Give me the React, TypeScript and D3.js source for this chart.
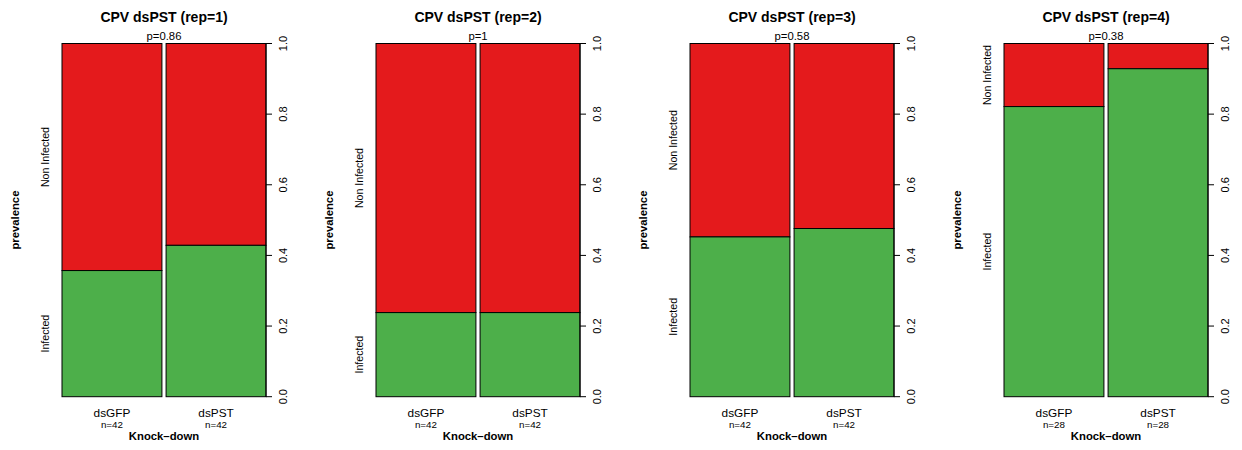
import * as d3 from 'd3';

const reps = [1, 2, 3, 4];
const pValues = ['0.86', '1', '0.58', '0.38'];
const groups = ['dsGFP', 'dsPST'];
const nTotal = [
  [42, 42],
  [42, 42],
  [42, 42],
  [28, 28],
];
const nInfected = [
  [15, 18],
  [10, 10],
  [19, 20],
  [23, 26],
];
const ticks = [0, 0.2, 0.4, 0.6, 0.8, 1.0];

const WIDTH = 1242;
const HEIGHT = 450;
const RED = '#E41A1C';
const GREEN = '#4DAF4A';
const FONT = '"Liberation Sans", Arial, Helvetica, sans-serif';

function Panel({ index }: { index: number }) {
  const left = 62 + index * 314;
  const plotW = 204;
  const top = 43.5;
  const bottom = 396.7;

  const x = d3.scaleBand().domain(groups).range([left, left + plotW]).paddingInner(0.04);
  const y = d3.scaleLinear().domain([0, 1]).range([bottom, top]);
  const axisX = left + plotW;
  const cx = left + plotW / 2;

  const fracs = nInfected[index].map((v, i) => v / nTotal[index][i]);
  const f0 = fracs[0];

  return (
    <g>
      <text x={cx} y={22} textAnchor="middle" fontSize={14} fontWeight="bold">
        CPV dsPST (rep={reps[index]})
      </text>
      <text x={cx} y={39.5} textAnchor="middle" fontSize={11.3}>
        p={pValues[index]}
      </text>

      {groups.map((g, i) => (
        <g key={g}>
          <rect
            x={x(g)}
            y={y(1)}
            width={x.bandwidth()}
            height={y(fracs[i]) - y(1)}
            fill={RED}
            stroke="#000"
            strokeWidth={1}
          />
          <rect
            x={x(g)}
            y={y(fracs[i])}
            width={x.bandwidth()}
            height={y(0) - y(fracs[i])}
            fill={GREEN}
            stroke="#000"
            strokeWidth={1}
          />
          <text x={(x(g) || 0) + x.bandwidth() / 2} y={416.5} textAnchor="middle" fontSize={11.8}>
            {g}
          </text>
          <text x={(x(g) || 0) + x.bandwidth() / 2} y={428} textAnchor="middle" fontSize={9.8}>
            n={nTotal[index][i]}
          </text>
        </g>
      ))}

      {/* right axis */}
      <line x1={axisX} x2={axisX} y1={y(0)} y2={y(1)} stroke="#000" />
      {ticks.map((t) => (
        <g key={t}>
          <line x1={axisX} x2={axisX + 6} y1={y(t)} y2={y(t)} stroke="#000" />
          <text
            transform={`translate(${axisX + 17.5},${y(t)}) rotate(-90)`}
            textAnchor="middle"
            dy="0.35em"
            fontSize={11}
          >
            {t.toFixed(1)}
          </text>
        </g>
      ))}

      <text x={cx} y={439.5} textAnchor="middle" fontSize={11.3} fontWeight="bold">
        Knock–down
      </text>
      <text
        transform={`translate(${left - 47},${(top + bottom) / 2}) rotate(-90)`}
        textAnchor="middle"
        dy="0.35em"
        fontSize={11.3}
        fontWeight="bold"
      >
        prevalence
      </text>
      <text
        transform={`translate(${left - 17},${(y(1) + y(f0)) / 2}) rotate(-90)`}
        textAnchor="middle"
        dy="0.35em"
        fontSize={10.6}
      >
        Non Infected
      </text>
      <text
        transform={`translate(${left - 17},${(y(f0) + y(0)) / 2}) rotate(-90)`}
        textAnchor="middle"
        dy="0.35em"
        fontSize={10.6}
      >
        Infected
      </text>
    </g>
  );
}

export default function App() {
  return (
    <svg
      width={WIDTH}
      height={HEIGHT}
      style={{ position: 'absolute', left: 0, top: 0, background: '#fff' }}
      fontFamily={FONT}
    >
      <rect width={WIDTH} height={HEIGHT} fill="#fff" />
      {reps.map((r, i) => (
        <Panel key={r} index={i} />
      ))}
    </svg>
  );
}
